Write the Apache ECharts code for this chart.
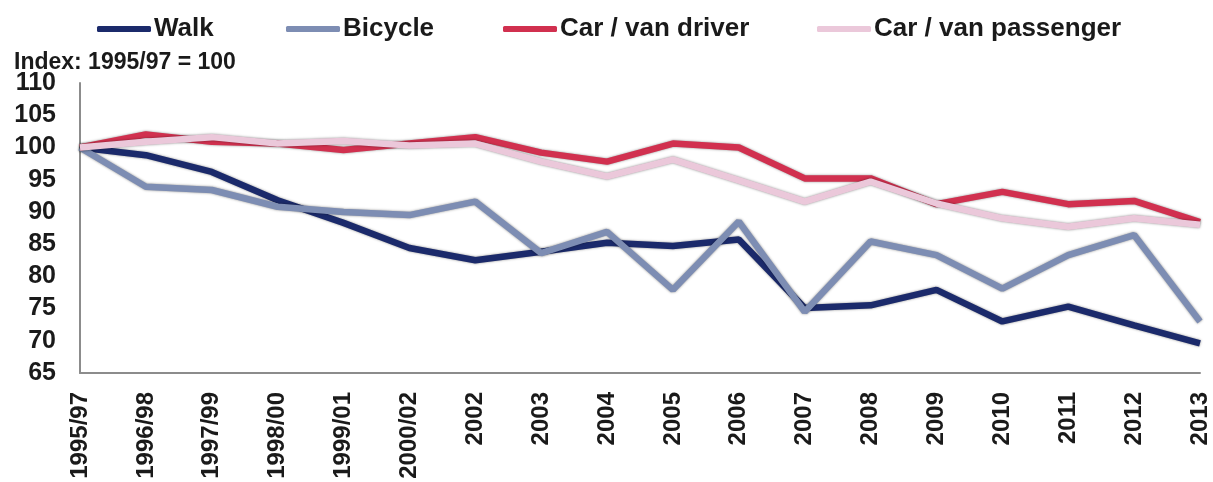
<!DOCTYPE html>
<html>
<head>
<meta charset="utf-8">
<script src="https://cdn.jsdelivr.net/npm/echarts@6/dist/echarts.min.js"></script>
<style>
  html, body { margin: 0; padding: 0; background: #fff; }
  #chart { width: 1213px; height: 482px; }
</style>
</head>
<body>
<div id="chart"></div>
<script>
// Index des déplacements par mode (1995/97 = 100)
const years = ['1995/97', '1996/98', '1997/99', '1998/00', '1999/01', '2000/02', '2002', '2003', '2004',
    '2005', '2006', '2007', '2008', '2009', '2010', '2011', '2012', '2013'];

const walk = [100, 98.8, 96.2, 91.8, 88.3, 84.4, 82.5, 83.8, 85.2, 84.7, 85.7, 75.1, 75.5, 77.9, 73.0, 75.3, 72.4, 69.6];
const bicycle = [100, 93.9, 93.4, 90.8, 90.0, 89.5, 91.6, 83.6, 86.9, 77.9, 88.5, 74.5, 85.4, 83.3, 78.1, 83.3, 86.4, 73.0];
const carDriver = [100, 102.0, 100.9, 100.6, 99.6, 100.6, 101.6, 99.2, 97.8, 100.6, 100.0, 95.2, 95.2, 91.2, 93.1, 91.2, 91.7, 88.4];
const carPassenger = [100, 100.9, 101.6, 100.6, 101.0, 100.3, 100.6, 97.8, 95.5, 98.1, 94.9, 91.6, 94.7, 91.3, 89.0, 87.7, 89.0, 88.0];

const seriesNames = ['Walk', 'Bicycle', 'Car / van driver', 'Car / van passenger'];
const seriesValues = [walk, bicycle, carDriver, carPassenger];
const colors = ['#1b2a6b', '#7d8db3', '#d1304f', '#ebc8da'];
const legendLeft = [97, 286, 503, 817];

const font = "'Liberation Sans', Arial, sans-serif";

const series = seriesNames.map((name, i) => ({
    name: name,
    type: 'line',
    data: seriesValues[i],
    symbol: 'none',
    color: colors[i],
    lineStyle: {
        width: 6.5,
        color: colors[i],
        shadowColor: 'rgba(0, 0, 0, 0.45)',
        shadowBlur: 2.5
    },
    z: 2 + i
}));

// Une légende par série pour garder les positions d'origine
const legends = seriesNames.map((name, i) => ({
    data: [name],
    left: legendLeft[i],
    top: 16,
    icon: 'roundRect',
    itemWidth: 54,
    itemHeight: 6,
    itemGap: 0,
    padding: 0,
    textStyle: {
        fontFamily: font,
        fontWeight: 'bold',
        fontSize: 26,
        color: '#1a1a1a',
        padding: [0, 0, 0, -2]
    }
}));

const option = {
    backgroundColor: '#ffffff',
    animation: false,
    legend: legends,
    title: {
        text: 'Index: 1995/97 = 100',
        left: 14,
        top: 51,
        padding: 0,
        textStyle: {
            fontFamily: font,
            fontWeight: 'bold',
            fontSize: 23,
            color: '#1a1a1a'
        }
    },
    grid: {
        left: 80,
        right: 13,
        top: 83,
        bottom: 109,
        containLabel: false
    },
    xAxis: {
        type: 'category',
        data: years,
        boundaryGap: false,
        axisLine: { lineStyle: { color: '#8c8c8c', width: 2 } },
        axisTick: { show: false },
        axisLabel: {
            rotate: 90,
            margin: 19,
            interval: 0,
            fontFamily: font,
            fontWeight: 'bold',
            fontSize: 24,
            color: '#1a1a1a'
        },
        splitLine: { show: false }
    },
    yAxis: {
        type: 'value',
        min: 65,
        max: 110,
        interval: 5,
        axisLine: { show: true, lineStyle: { color: '#8c8c8c', width: 2 } },
        axisTick: { show: false },
        axisLabel: {
            margin: 24,
            fontFamily: font,
            fontWeight: 'bold',
            fontSize: 25,
            color: '#1a1a1a'
        },
        splitLine: { show: false }
    },
    series: series
};

const chart = echarts.init(document.getElementById('chart'));
chart.setOption(option);
</script>
</body>
</html>
